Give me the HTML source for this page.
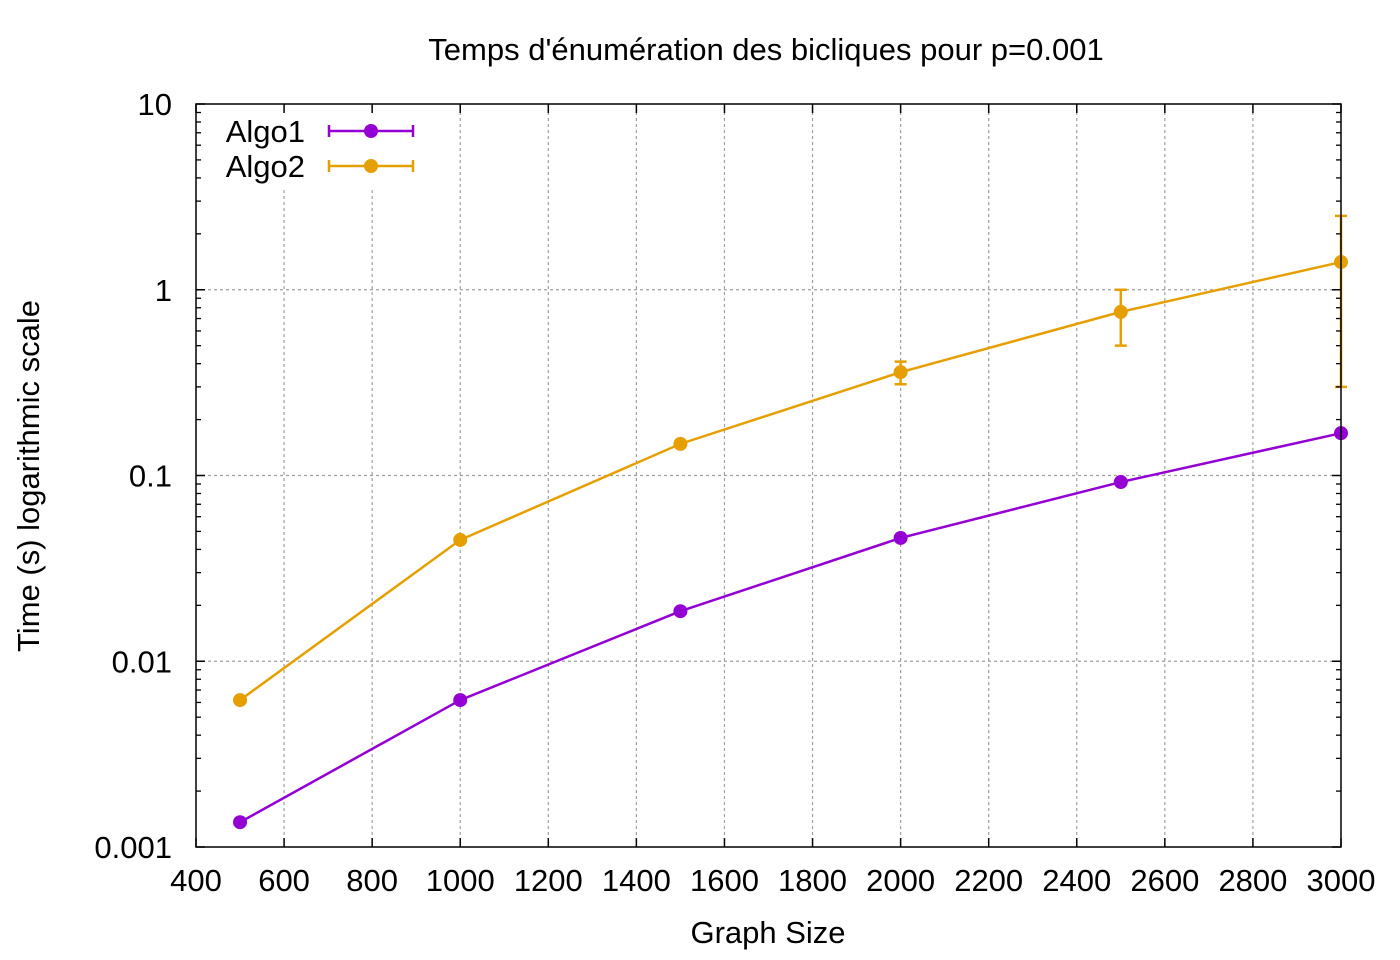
<!DOCTYPE html>
<html><head><meta charset="utf-8"><style>
body{margin:0;background:#fff}
svg{display:block;font-family:"Liberation Sans",sans-serif}
</style></head><body>
<svg id="chart" width="1400" height="960" xmlns="http://www.w3.org/2000/svg">
<g id="grid"></g>
<g id="marks"></g>
<g id="axes"></g>
<text x="766" y="60" font-size="31" text-anchor="middle">Temps d'énumération des bicliques pour p=0.001</text>
<text x="768" y="943" font-size="31" text-anchor="middle">Graph Size</text>
<text transform="translate(39,476) rotate(-90)" font-size="31" text-anchor="middle">Time (s) logarithmic scale</text>
</svg>
<script>
const xTicks=[400,600,800,1000,1200,1400,1600,1800,2000,2200,2400,2600,2800,3000];
const yTicks=[0.001,0.01,0.1,1,10];
const yTickLabels=["0.001","0.01","0.1","1","10"];
const sizes=[500,1000,1500,2000,2500,3000];
const algo1=[0.00136,0.00618,0.0186,0.0461,0.0922,0.169];
const algo2=[0.00618,0.045,0.148,0.36,0.76,1.41];
const algo2Low=[0.00618,0.045,0.148,0.31,0.50,0.30];
const algo2High=[0.00618,0.045,0.148,0.41,1.0,2.5];
const seriesNames=["Algo1","Algo2"];
const seriesColors=["#9400d3","#e69f00"];

const L=196,R=1341,T=104,B=847;
const NS="http://www.w3.org/2000/svg";
const X=v=>L+(v-400)/(3000-400)*(R-L);
const Y=v=>B-(Math.log10(v)+3)/4*(B-T);
function mk(parent,tag,attrs){const e=document.createElementNS(NS,tag);for(const k in attrs)e.setAttribute(k,attrs[k]);parent.appendChild(e);return e;}
const grid=document.getElementById('grid'),marks=document.getElementById('marks'),axes=document.getElementById('axes');

xTicks.forEach((t,i)=>{
  const x=X(t);
  if(i>0&&i<xTicks.length-1){const g=mk(grid,'line',{x1:x,x2:x,y1:B,y2:T,stroke:'#a0a0a0','stroke-width':1.2,'stroke-dasharray':'3,3'});
  
  }
  mk(axes,'line',{x1:x,x2:x,y1:B,y2:B-9,stroke:'#000','stroke-width':1.5});
  mk(axes,'line',{x1:x,x2:x,y1:T,y2:T+9,stroke:'#000','stroke-width':1.5});
  const tx=mk(axes,'text',{x:x,y:B+44,'font-size':31,'text-anchor':'middle'});tx.textContent=t;
  
  
});
yTicks.forEach((t,i)=>{
  const y=Y(t);
  if(i>0&&i<yTicks.length-1){const g=mk(grid,'line',{x1:L,x2:R,y1:y,y2:y,stroke:'#a0a0a0','stroke-width':1.2,'stroke-dasharray':'3,3'});
  
  }
  mk(axes,'line',{x1:L,x2:L+9,y1:y,y2:y,stroke:'#000','stroke-width':1.5});
  mk(axes,'line',{x1:R,x2:R-9,y1:y,y2:y,stroke:'#000','stroke-width':1.5});
  const tx=mk(axes,'text',{x:L-24,y:y+11,'font-size':31,'text-anchor':'end'});tx.textContent=yTickLabels[i];
  
  
  if(i<yTicks.length-1)for(let m=2;m<=9;m++){const yy=Y(t*m);
    mk(axes,'line',{x1:L,x2:L+5,y1:yy,y2:yy,stroke:'#000','stroke-width':1.3});
    mk(axes,'line',{x1:R,x2:R-5,y1:yy,y2:yy,stroke:'#000','stroke-width':1.3});}
});
mk(grid,'rect',{x:L+1,y:T+1,width:230,height:82,fill:'#fff'});
mk(axes,'rect',{x:L,y:T,width:R-L,height:B-T,fill:'none',stroke:'#000','stroke-width':1.5});

function series(vals,color,name){
  const g=mk(marks,'g',{});
  
  
  mk(g,'polyline',{points:vals.map((v,i)=>X(sizes[i])+','+Y(v)).join(' '),fill:'none',stroke:color,'stroke-width':2.5});
  vals.forEach((v,i)=>{const c=mk(g,'circle',{cx:X(sizes[i]),cy:Y(v),r:7,fill:color});
    
    });
  return g;
}
series(algo1,seriesColors[0],seriesNames[0]);
const g2=series(algo2,seriesColors[1],seriesNames[1]);
algo2.forEach((v,i)=>{
  if(algo2Low[i]===algo2High[i])return;
  const x=X(sizes[i]),y1=Y(algo2High[i]),y2=Y(algo2Low[i]);
  const e=mk(g2,'path',{d:`M${x},${y1}V${y2}M${x-6},${y1}H${x+6}M${x-6},${y2}H${x+6}`,stroke:seriesColors[1],'stroke-width':2.5,fill:'none'});
  
  
});
seriesNames.forEach((n,i)=>{
  const y=131+i*35;
  const lg=mk(axes,'g',{});
  
  
  const t=mk(lg,'text',{x:305,y:y+11,'font-size':31,'text-anchor':'end'});t.textContent=n;
  mk(lg,'path',{d:`M329,${y}H413M329,${y-6}V${y+6}M413,${y-6}V${y+6}`,stroke:seriesColors[i],'stroke-width':2.5,fill:'none'});
  mk(lg,'circle',{cx:371,cy:y,r:7,fill:seriesColors[i]});
});
</script>
</body></html>
